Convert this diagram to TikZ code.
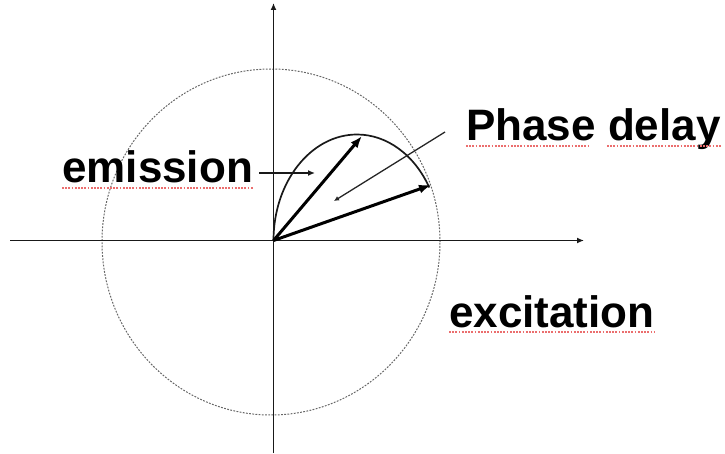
\documentclass[tikz,border=0pt]{standalone}
\usepackage{fontspec}
\setmainfont{Liberation Sans}
\usetikzlibrary{arrows.meta,calc}
\definecolor{squig}{RGB}{235,110,110}
\tikzset{
  axis/.style={line width=1.8pt, black!90, -{Latex[length=7pt,width=6pt]}},
  vec/.style={line width=3pt, black, -{Latex[length=12pt,width=9pt]}},
  pointer/.style={line width=1.3pt, black!90, -{Latex[length=7pt,width=6pt]}},
  delay/.style={line width=1.3pt, black!85, -{Latex[length=5pt,width=5pt]}},
  dotcircle/.style={line width=1pt, black!60, dash pattern=on 1.8pt off 1.4pt},
  squiggle/.style={line width=1.6pt, squig, dash pattern=on 1.8pt off 1.4pt},
  label/.style={font=\fontsize{44}{48}\selectfont\bfseries, inner sep=0pt, anchor=base west}
}
\begin{document}
\begin{tikzpicture}[x=1pt,y=1pt]
\useasboundingbox (0,0) rectangle (725,453);
% coordinates
\coordinate (O) at (273.5,212.5);
\coordinate (ytop) at (273.5,450);
\coordinate (ybot) at (273.5,0);
\coordinate (xleft) at (10,212.5);
\coordinate (xright) at (584,212.5);
\coordinate (C) at (271,211);
\coordinate (emtip) at (362,317);
\coordinate (extip) at (431,268);
\coordinate (pdtail) at (445,321);
\coordinate (pdhead) at (334,252);
\coordinate (emtail) at (259,280);
\coordinate (emhead) at (315,280);
% dotted circle
\draw[dotcircle] (C) ellipse [x radius=169, y radius=173];
% axes
\draw[axis] (ybot) -- (ytop);
\draw[axis] (xleft) -- (xright);
% emission half-ellipse
\draw[line width=1.7pt, black!90] (O) arc [start angle=180, end angle=30, x radius=83.5, y radius=106];
% vectors
\draw[vec] (O) -- (emtip);
\draw[vec] (O) -- (extip);
% phase delay pointer
\draw[delay] (pdtail) -- (pdhead);
% labels
\node[label] (em) at (62,270) {emission};
\node[label] (pd) at (466,312) {Phase delay};
\node[label] (ex) at (449,126) {excitation};
\draw[pointer] (emtail) -- (emhead);
% spell-check underlines
\draw[squiggle] ($(em.base west)+(0,-5)$) -- ($(em.base east)+(0,-5)$);
\draw[squiggle] ($(ex.base west)+(0,-5)$) -- ($(ex.base east)+(0,-5)$);
\draw[squiggle] ($(pd.base west)+(0,-5)$) -- ($(pd.base west)+(122,-5)$);
\draw[squiggle] ($(pd.base west)+(141,-5)$) -- ($(pd.base east)+(0,-5)$);
\end{tikzpicture}
\end{document}
